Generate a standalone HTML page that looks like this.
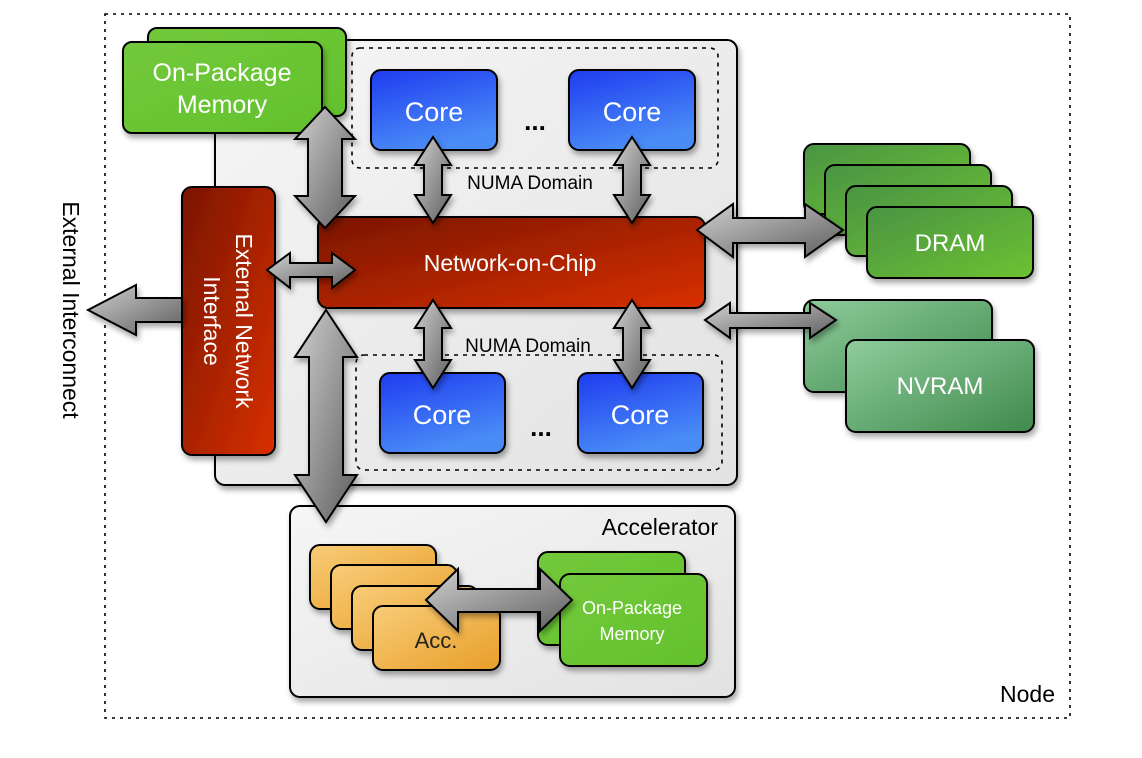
<!DOCTYPE html>
<html><head><meta charset="utf-8"><style>
html,body{margin:0;padding:0;background:#fff}
svg{display:block}
text{font-family:"Liberation Sans",sans-serif}
</style></head><body>
<svg width="1142" height="758" viewBox="0 0 1142 758" xmlns="http://www.w3.org/2000/svg">
<defs>
<linearGradient id="gray" x1="0" y1="0" x2="1" y2="1"><stop offset="0" stop-color="#f6f6f6"/><stop offset="1" stop-color="#e2e2e2"/></linearGradient>
<linearGradient id="green" x1="0" y1="0" x2="1" y2="1"><stop offset="0" stop-color="#72c93c"/><stop offset="1" stop-color="#63c12c"/></linearGradient>
<linearGradient id="blue" x1="0" y1="0" x2="0.4" y2="1"><stop offset="0" stop-color="#1e3cf0"/><stop offset="1" stop-color="#4a8cf6"/></linearGradient>
<linearGradient id="red" x1="0" y1="0" x2="1" y2="1"><stop offset="0" stop-color="#7a1500"/><stop offset="1" stop-color="#d83000"/></linearGradient>
<linearGradient id="dram" x1="0" y1="0" x2="1" y2="1"><stop offset="0" stop-color="#4a9444"/><stop offset="1" stop-color="#6cc230"/></linearGradient>
<linearGradient id="nv" x1="0" y1="0" x2="1" y2="1"><stop offset="0" stop-color="#8fcc9c"/><stop offset="1" stop-color="#3f8a4c"/></linearGradient>
<linearGradient id="acc" x1="0" y1="0" x2="1" y2="1"><stop offset="0" stop-color="#f8cc78"/><stop offset="1" stop-color="#e89e28"/></linearGradient>
<linearGradient id="arr" x1="0" y1="0" x2="1" y2="1"><stop offset="0" stop-color="#d0d0d0"/><stop offset="1" stop-color="#5e5e5e"/></linearGradient>
<filter id="sh" x="-20%" y="-20%" width="140%" height="140%"><feDropShadow dx="2" dy="4" stdDeviation="3" flood-color="#000" flood-opacity="0.35"/></filter>
</defs>

<rect x="105" y="14" width="965" height="704" fill="none" stroke="#000" stroke-width="1.6" stroke-dasharray="3,5"/>
<text x="1055" y="702" font-size="23" text-anchor="end">Node</text>
<text x="0" y="0" font-size="23" text-anchor="middle" transform="translate(63,310) rotate(90)">External Interconnect</text>

<!-- main gray box -->
<rect x="215" y="40" width="522" height="445" rx="10" fill="url(#gray)" stroke="#000" stroke-width="2" filter="url(#sh)"/>

<!-- on-package memory -->
<rect x="148" y="28" width="198" height="88" rx="9" fill="url(#green)" stroke="#000" stroke-width="2" filter="url(#sh)"/>
<rect x="123" y="42" width="199" height="91" rx="9" fill="url(#green)" stroke="#000" stroke-width="2" filter="url(#sh)"/>
<text x="222" y="81" font-size="25" fill="#fff" text-anchor="middle">On-Package</text>
<text x="222" y="113" font-size="25" fill="#fff" text-anchor="middle">Memory</text>

<!-- NUMA dashed -->
<rect x="352" y="48" width="366" height="120" rx="8" fill="none" stroke="#000" stroke-width="1.6" stroke-dasharray="4,5"/>
<rect x="356" y="355" width="366" height="115" rx="8" fill="none" stroke="#000" stroke-width="1.6" stroke-dasharray="4,5"/>

<!-- cores -->
<g stroke="#000" stroke-width="2" fill="url(#blue)" filter="url(#sh)">
<rect x="371" y="70" width="126" height="80" rx="10"/>
<rect x="569" y="70" width="126" height="80" rx="10"/>
<rect x="380" y="373" width="125" height="80" rx="10"/>
<rect x="578" y="373" width="125" height="80" rx="10"/>
</g>
<g font-size="27" fill="#fff" text-anchor="middle">
<text x="434" y="121">Core</text><text x="632" y="121">Core</text>
<text x="442" y="424">Core</text><text x="640" y="424">Core</text>
</g>
<text x="535" y="130" font-size="26" font-weight="bold" text-anchor="middle">...</text>
<text x="541" y="436" font-size="26" font-weight="bold" text-anchor="middle">...</text>
<text x="530" y="189" font-size="19" text-anchor="middle">NUMA Domain</text>
<text x="528" y="352" font-size="19" text-anchor="middle">NUMA Domain</text>

<!-- ENI -->
<rect x="182" y="187" width="93" height="268" rx="10" fill="url(#red)" stroke="#000" stroke-width="2" filter="url(#sh)"/>
<g font-size="23" fill="#fff" text-anchor="middle">
<text x="0" y="0" transform="translate(236,321) rotate(90)">External Network</text>
<text x="0" y="0" transform="translate(204,321) rotate(90)">Interface</text>
</g>

<!-- NoC -->
<rect x="318" y="217" width="387" height="91" rx="10" fill="url(#red)" stroke="#000" stroke-width="2" filter="url(#sh)"/>
<text x="510" y="271" font-size="23" fill="#fff" text-anchor="middle">Network-on-Chip</text>

<!-- DRAM -->
<g stroke="#000" stroke-width="2" fill="url(#dram)" filter="url(#sh)">
<rect x="804" y="144" width="166" height="70" rx="10"/>
<rect x="825" y="165" width="166" height="70" rx="10"/>
<rect x="846" y="186" width="166" height="70" rx="10"/>
<rect x="867" y="207" width="166" height="71" rx="10"/>
</g>
<text x="950" y="251" font-size="24" fill="#fff" text-anchor="middle">DRAM</text>

<!-- NVRAM -->
<g stroke="#000" stroke-width="2" fill="url(#nv)" filter="url(#sh)">
<rect x="804" y="300" width="188" height="92" rx="10"/>
<rect x="846" y="340" width="188" height="92" rx="10"/>
</g>
<text x="940" y="394" font-size="24" fill="#fff" text-anchor="middle">NVRAM</text>

<!-- accelerator -->
<rect x="290" y="506" width="445" height="191" rx="10" fill="url(#gray)" stroke="#000" stroke-width="2" filter="url(#sh)"/>
<text x="718" y="535" font-size="23" text-anchor="end">Accelerator</text>
<g stroke="#000" stroke-width="2" fill="url(#acc)" filter="url(#sh)">
<rect x="310" y="545" width="126" height="64" rx="10"/>
<rect x="331" y="565" width="126" height="64" rx="10"/>
<rect x="352" y="586" width="126" height="64" rx="10"/>
<rect x="373" y="606" width="127" height="64" rx="10"/>
</g>
<text x="436" y="648" font-size="22" fill="#222" text-anchor="middle">Acc.</text>
<g stroke="#000" stroke-width="2" fill="url(#green)" filter="url(#sh)">
<rect x="538" y="552" width="147" height="93" rx="10"/>
<rect x="560" y="574" width="147" height="92" rx="10"/>
</g>
<text x="632" y="614" font-size="18" fill="#fff" text-anchor="middle">On-Package</text>
<text x="632" y="640" font-size="18" fill="#fff" text-anchor="middle">Memory</text>

<!-- arrows -->
<g fill="url(#arr)" stroke="#000" stroke-width="2" stroke-linejoin="miter" filter="url(#sh)">
<polygon points="325,107 355,139 342,139 342,196 355,196 325,228 295,196 308,196 308,139 295,139"/>
<polygon points="326,310 357,357 343,357 343,475 357,475 326,522 295,475 309,475 309,357 295,357"/>
<polygon points="433,137 451,165 442,165 442,195 451,195 433,223 415,195 424,195 424,165 415,165"/>
<polygon points="632,137 650,165 641,165 641,195 650,195 632,223 614,195 623,195 623,165 614,165"/>
<polygon points="433,300 451,328 442,328 442,360 451,360 433,388 415,360 424,360 424,328 415,328"/>
<polygon points="632,300 650,328 641,328 641,360 650,360 632,388 614,360 623,360 623,328 614,328"/>
<polygon points="267,270 290,253 290,263 332,263 332,253 355,270 332,288 332,277 290,277 290,288"/>
<polygon points="88,310 136,285 136,298 182,298 182,322 136,322 136,335"/>
<polygon points="697,230 733,204 733,218 805,218 805,204 843,230 805,257 805,243 733,243 733,257"/>
<polygon points="705,320 730,303 730,313 810,313 810,303 836,320 810,338 810,328 730,328 730,338"/>
<polygon points="426,600 458,569 458,589 540,589 540,569 572,600 540,631 540,612 458,612 458,631"/>
</g>
</svg>
</body></html>
